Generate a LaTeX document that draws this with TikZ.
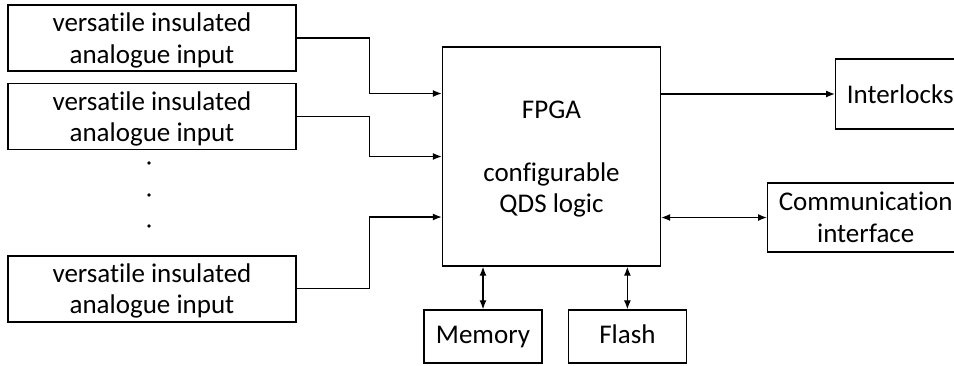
\documentclass[tikz,border=0pt]{standalone}
\usepackage{fontspec}
\setmainfont{Carlito}[Ligatures=NoCommon]
\usetikzlibrary{arrows.meta,positioning}

\begin{document}
\begin{tikzpicture}[x=1pt,y=-1pt,node distance=11pt,
  font=\fontsize{27}{31.5}\selectfont,
  box/.style={draw,line width=1.4pt,inner sep=0pt,align=center},
  input/.style={box,text depth=-2pt,minimum width=288pt,minimum height=66pt},
  unit/.style={box,minimum width=118pt,minimum height=53pt,text height=19pt,text depth=6pt},
  conn/.style={line width=1.3pt,-{Latex[length=9pt,width=7pt]}},
  dconn/.style={line width=1.3pt,{Latex[length=9pt,width=7pt]}-{Latex[length=9pt,width=7pt]}}]

\useasboundingbox (0,0) rectangle (954,365);
\clip (0,0) rectangle (954,365);

\node[input] (in1) at (152,38) {versatile insulated\\analogue input};
\node[input,below=of in1] (in2) {versatile insulated\\analogue input};
\node[input,below=105pt of in2] (in3) {versatile insulated\\analogue input};
\foreach \y in {163,195,226}
    \fill (149,\y) circle (1.8pt);

\node[box,text depth=-6pt,minimum width=218pt,minimum height=219pt] (fpga) at (551.5,156.5)
    {FPGA\\[\baselineskip]configurable\\QDS logic};
\node[unit] (mem) at (483,336.5) {Memory};
\node[unit,right=25pt of mem] (flash) {Flash};
\node[box,minimum width=129pt,minimum height=70pt,anchor=west] (ilk) at (835,94) {Interlocks};
\node[box,minimum width=196pt,minimum height=69pt,anchor=west] (com) at (767,217.5)
    {Communication\\interface};

\coordinate (f1) at ([yshift=63pt]fpga.west);
\coordinate (f3) at ([yshift=-60.5pt]fpga.west);

\draw[conn] (in1.east) -- ++(73,0) |- (f1);
\draw[conn] (in2.east) -- ++(73,0) |- (fpga.west);
\draw[conn] (in3.east) -- ++(73,0) |- (f3);
\draw[conn] (ilk.west -| fpga.east) -- (ilk.west);
\draw[dconn] (com.west -| fpga.east) -- (com.west);
\draw[dconn] (mem.north |- fpga.south) -- (mem.north);
\draw[dconn] (flash.north |- fpga.south) -- (flash.north);
\end{tikzpicture}
\end{document}
